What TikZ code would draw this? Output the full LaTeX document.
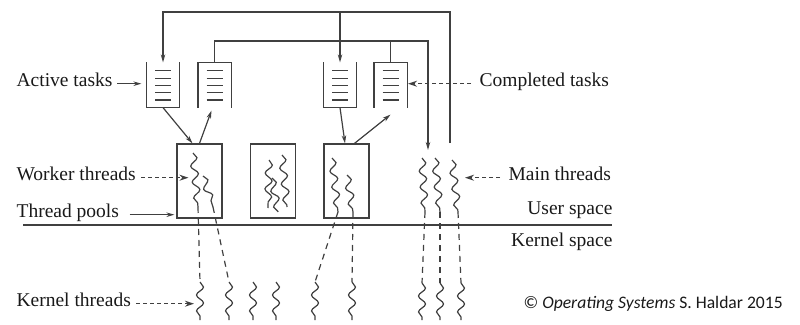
\documentclass[tikz,border=0pt]{standalone}
\usepackage{fontspec}
\setmainfont{Liberation Serif}
\newfontfamily\labelfont{Liberation Serif}
\newfontfamily\notefont{Carlito}
\usetikzlibrary{arrows.meta,decorations.pathmorphing}

\begin{document}
\begin{tikzpicture}[
    x=1pt, y=-1pt,
    line width=1.2pt, draw=black!75,
    every node/.style={text=black!90},
    lbl/.style={font=\labelfont\fontsize{19.5}{23}\selectfont, inner sep=0pt},
    qbox/.style={minimum width=32pt, minimum height=44pt, inner sep=0pt,
        path picture={\foreach \k in {1,...,5}
            \draw[black!75, line width=1.2pt] ([xshift=8pt, yshift=-0.5pt-\k*7.3pt] path picture bounding box.north west) -- ++(16pt,0);}},
    pool/.style={draw, minimum width=45pt, minimum height=74pt, inner sep=0pt},
    thread/.style={decorate, decoration={snake, segment length=16pt, amplitude=3.5pt}},
    arr/.style={-{Stealth[length=8pt, width=4.5pt]}},
    ptr/.style={dash pattern=on 4pt off 3pt, -{Stealth[open, length=9pt, width=6pt]}},
    link/.style={dash pattern=on 6pt off 5pt}
]
\useasboundingbox (0,0) rectangle (800,324);

% Define task queues
\node[qbox] (actq1) at (163,85) {};
\node[qbox] (doneq1) at (214.5,85) {};
\node[qbox] (actq2) at (340,85) {};
\node[qbox] (doneq2) at (390.5,85) {};
\draw (actq1.north west) |- (actq1.south east) -- (actq1.north east);
\draw (actq2.north west) |- (actq2.south east) -- (actq2.north east);
\draw (doneq1.south west) |- (doneq1.north east) -- (doneq1.south east);
\draw (doneq2.south west) |- (doneq2.north east) -- (doneq2.south east);

% Define thread pools
\node[pool] (pool1) at (199.5,181) {};
\node[pool] (pool2) at (273,181) {};
\node[pool] (pool3) at (346.5,181) {};

% Worker threads inside the pools
\draw[thread] (193,153) -- (198,207) coordinate (wa1);
\draw[thread] (203,176) -- (213,207) coordinate (wa2);
\draw[thread] (269,160) -- (268,208) coordinate (wb1);
\draw[thread] (272,178) -- (278,212) coordinate (wb2);
\draw[thread] (282,155) -- (287,207) coordinate (wb3);
\draw[thread] (332,158) -- (338,212) coordinate (wc1);
\draw[thread] (347,175) -- (353,212) coordinate (wc2);

% Main threads
\draw[thread] (422,158) coordinate (mt1) -- (425,212) coordinate (mb1);
\draw[thread] (435,158) coordinate (mt2) -- (440,212) coordinate (mb2);
\draw[thread] (452,160) coordinate (mt3) -- (458,212) coordinate (mb3);

% Kernel threads
\foreach \name/\x/\y in {k1/200/282, k2/229/282, k3/253/282, k4/276/282, k5/315/282,
                          k6/352/282, k7/422/283, k8/440/283, k9/461/283} {
    \draw[thread] (\x,\y) coordinate (\name) -- (\x,320);
}

% User / kernel boundary
\draw (23,225) -- (612,225);

% Tasks between queues and pools
\draw[arr] (actq1.south) -- ([xshift=-7pt]pool1.north);
\draw[arr] (pool1.north) -- ([xshift=-3pt, yshift=-3pt]doneq1.south);
\draw[arr] (actq2.south) -- ([xshift=-1.5pt]pool3.north);
\draw[arr] ([xshift=8pt]pool3.north) -- ([yshift=-7pt]doneq2.south);

% Main thread hands out tasks, collects finished ones
\coordinate (bus) at (0,12);
\coordinate (bus2) at (0,41);
\coordinate (disp) at ([yshift=17pt, xshift=-2pt]mt3);
\coordinate (coll) at ([yshift=8pt, xshift=6pt]mt1);
\draw[arr] (disp) -- (disp |- bus) -| (actq1.north);
\draw[arr] (actq2.north |- bus) -- (actq2.north);
\draw[arr] (doneq1.north) -- (doneq1.north |- bus2) -| (coll);
\draw (doneq2.north) -- (doneq2.north |- bus2);

% User threads mapped onto kernel threads
\draw[link] (wa1) -- (k1);
\draw[link] (wa2) -- (k2);
\draw[link] (wc1) -- (k5);
\draw[link] (wc2) -- (k6);
\draw[link] (mb1) -- (k7);
\draw[link] (mb2) -- (k8);
\draw[link] (mb3) -- (k9);

% Labels
\node[lbl, anchor=base west] (active) at (16,86) {Active tasks};
\node[lbl, anchor=base west] (done) at (479,86) {Completed tasks};
\node[lbl, anchor=base west] (worker) at (16,180) {Worker threads};
\node[lbl, anchor=base west] (pools) at (16,217) {Thread pools};
\node[lbl, anchor=base west] (kthr) at (16,306) {Kernel threads};
\node[lbl, anchor=base west] (mainlbl) at (508,180) {Main threads};
\node[lbl, anchor=base east] (user) at (613,214) {User space};
\node[lbl, anchor=base east] (kern) at (613,246) {Kernel space};
\node[anchor=base west, inner sep=0pt, font=\notefont\fontsize{17.6}{21}\selectfont] (credit) at (523,308)
    {© \textit{Operating Systems} S. Haldar 2015};

\draw[arr, shorten <=4pt, shorten >=5pt] (active.mid east) -- (active.mid east -| actq1.west);
\draw[ptr, shorten <=8pt, shorten >=1pt] (done.mid west) -- (done.mid west -| doneq2.east);
\draw[ptr, shorten <=5pt] (worker.mid east) -- ([xshift=-11pt]pool1.center |- worker.mid east);
\draw[arr, shorten <=10pt, shorten >=2pt] (pools.mid east) -- (pools.mid east -| pool1.west);
\draw[ptr, shorten <=8pt] (mainlbl.mid west) -- ([xshift=13pt]mt3 |- mainlbl.mid west);
\draw[ptr, shorten <=5pt] (kthr.mid east) -- ([xshift=-6pt]k1 |- kthr.mid east);

\end{tikzpicture}
\end{document}
